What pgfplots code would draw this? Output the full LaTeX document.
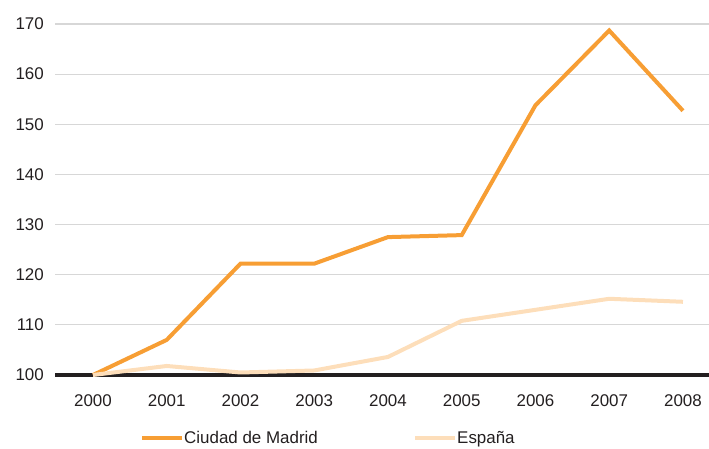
\documentclass[border=0pt]{standalone}
\usepackage{pgfplots}
\pgfplotsset{compat=1.18}
\usepackage{fontspec}
\setmainfont{Liberation Sans}
\definecolor{madrid}{RGB}{247,158,52}
\definecolor{espana}{RGB}{253,222,186}
\definecolor{gridc}{RGB}{215,215,215}
\definecolor{axisc}{RGB}{35,31,32}
\begin{document}
\begin{tikzpicture}
\useasboundingbox (0,0) rectangle (709bp,449bp);
\begin{axis}[
    at={(55bp,74bp)}, anchor=south west,
    scale only axis,
    width=654bp, height=351bp,
    xmin=-0.515, xmax=8.353,
    ymin=100, ymax=170,
    clip=false,
    axis line style={draw=none},
    major tick length=0pt,
    xtick={0,...,8},
    xticklabels={2000,2001,2002,2003,2004,2005,2006,2007,2008},
    ytick={110,120,...,170},
    extra y ticks={100},
    extra y tick style={grid=none},
    ymajorgrids=true,
    grid style={gridc, line width=1.2bp},
    /pgf/number format/assume math mode=true,
    tick label style={font=\fontsize{17}{20}\selectfont, text=axisc},
    xticklabel style={inner sep=0pt, yshift=-19bp},
    yticklabel style={inner sep=0pt, xshift=-11bp},
    legend columns=2,
    legend style={draw=none, fill=none, at={(0.13,-0.18)}, anchor=west,
        inner sep=0pt, font=\fontsize{17}{20}\selectfont,
        nodes={inner sep=0pt, text=axisc},
        /tikz/every even column/.append style={column sep=5bp}},
    legend image code/.code={\draw[#1] (0bp,0bp) -- (40bp,0bp);},
]
% base line at 100
\addplot[axisc, line width=3bp, forget plot] coordinates {(-0.515,100) (8.353,100)};
\addplot[madrid, line width=4bp, line join=miter] coordinates {
    (0,100) (1,107.0) (2,122.2) (3,122.2) (4,127.5)
    (5,127.9) (6,153.8) (7,168.7) (8,152.7)
};
\addlegendentry{\makebox[224bp][l]{Ciudad de Madrid}}
\addplot[espana, line width=4bp, line join=miter] coordinates {
    (0,100) (1,101.8) (2,100.5) (3,100.9) (4,103.6)
    (5,110.8) (6,113.0) (7,115.2) (8,114.6)
};
\addlegendentry{España}
\end{axis}
\end{tikzpicture}
\end{document}
